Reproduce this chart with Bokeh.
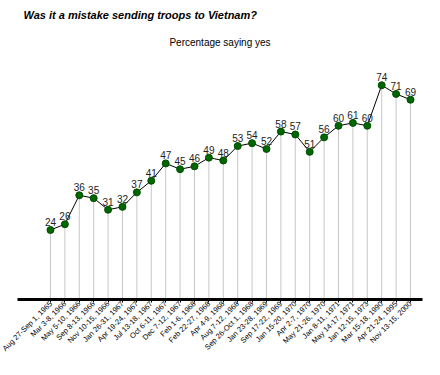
import math
from bokeh.plotting import figure
from bokeh.models import Range1d, FixedTicker, Title, ColumnDataSource
from bokeh.core.properties import value
from bokeh.embed import file_html
from bokeh.resources import INLINE

dates = ["Aug 27-Sep 1, 1965", "Mar 3-8, 1966", "May 5-10, 1966", "Sep 8-13, 1966",
         "Nov 10-15, 1966", "Jan 26-31, 1967", "Apr 19-24, 1967", "Jul 13-18, 1967",
         "Oct 6-11, 1967", "Dec 7-12, 1967", "Feb 1-6, 1968", "Feb 22-27, 1968",
         "Apr 4-9, 1968", "Aug 7-12, 1968", "Sep 26-Oct 1, 1968", "Jan 23-28, 1969",
         "Sep 17-22, 1969", "Jan 15-20, 1970", "Apr 2-7, 1970", "May 21-26, 1970",
         "Jan 8-11, 1971", "May 14-17, 1971", "Jan 12-15, 1973", "Mar 15-18, 1990",
         "Apr 21-24, 1995", "Nov 13-15, 2000"]
yes_pct = [24, 26, 36, 35, 31, 32, 37, 41, 47, 45, 46, 49, 48, 53, 54, 52,
           58, 57, 51, 56, 60, 61, 60, 74, 71, 69]

idx = list(range(len(dates)))
src = ColumnDataSource(dict(x=idx, y=yes_pct, base=[0] * len(idx),
                            lbl=[str(v) for v in yes_pct]))

FONT = "Liberation Sans"

p = figure(width=424, height=359, output_backend="svg", toolbar_location=None,
           x_range=Range1d(-2.29, 25.833), y_range=Range1d(0, 86),
           y_axis_location=None, min_border_left=17, min_border_right=2,
           min_border_top=50, min_border_bottom=40)
p.outline_line_color = None
p.xgrid.visible = False
p.ygrid.visible = False
p.background_fill_color = "white"
p.border_fill_color = "white"

p.segment(x0="x", y0="base", x1="x", y1="y", source=src, line_color="#c8c8c8", line_width=1)
p.line(x="x", y="y", source=src, line_color="black", line_width=1)
p.scatter(x="x", y="y", source=src, size=7, fill_color="#006600", line_color="#004d00")
p.text(x="x", y="y", text="lbl", source=src, text_align="center", text_baseline="bottom",
       y_offset=-4, text_font=value(FONT), text_font_size="10px", text_color="#222222")

ax = p.xaxis[0]
ax.ticker = FixedTicker(ticks=idx)
ax.major_label_overrides = {i: d for i, d in enumerate(dates)}
ax.major_label_orientation = math.pi / 4
ax.major_label_text_font = FONT
ax.major_label_text_font_size = "7.5px"
ax.major_label_text_color = "black"
ax.major_label_standoff = 0
ax.axis_line_width = 3
ax.axis_line_color = "black"
ax.major_tick_in = 0
ax.major_tick_out = 3
ax.major_tick_line_color = "black"
ax.minor_tick_line_color = None

p.title.text = "Was it a mistake sending troops to Vietnam?"
p.title.align = "left"
p.title.standoff = 7
p.title.text_font = FONT
p.title.text_font_size = "11px"
p.title.text_font_style = "bold italic"
p.title.text_color = "black"
if "padding" in type(p.title).properties():
    p.title.padding = (6, 0, 0, 7)

p.add_layout(Title(text="Percentage saying yes", align="center",
                   standoff=6, text_font=FONT, text_font_size="10px",
                   text_font_style="normal", text_color="black"), "above")

open("out.html", "w").write(file_html(p, INLINE))
